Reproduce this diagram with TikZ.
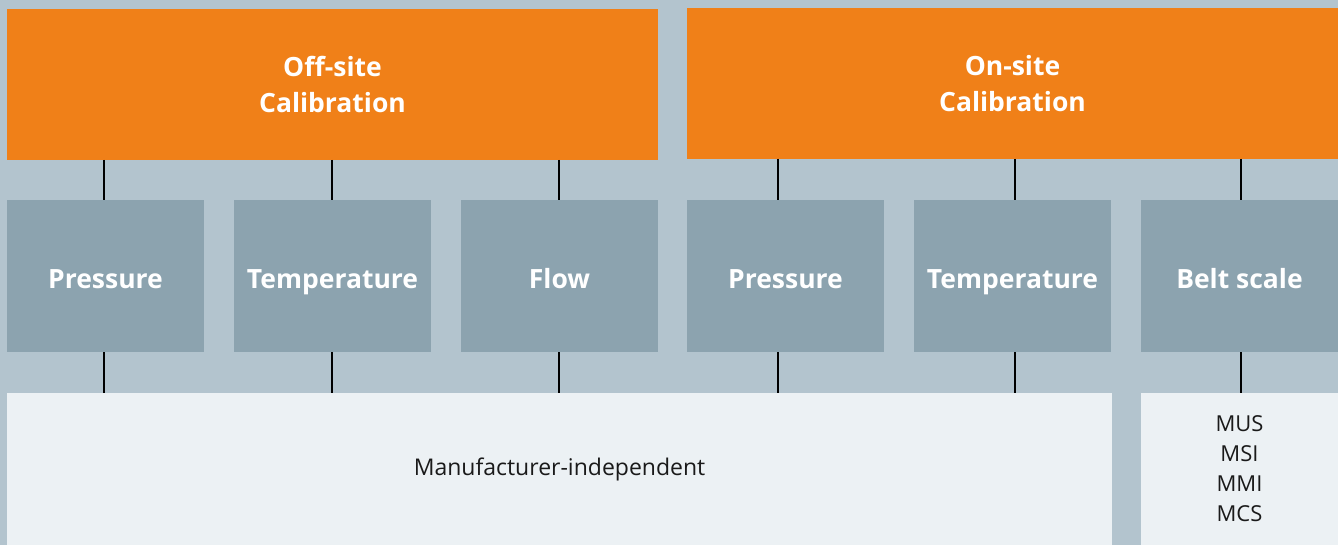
\documentclass[tikz,border=0pt]{standalone}
\usepackage{fontspec}
\setmainfont{Open Sans}
\definecolor{bgc}{HTML}{B3C4CE}
\definecolor{orng}{HTML}{F08018}
\definecolor{grayb}{HTML}{8CA3AF}
\definecolor{lightb}{HTML}{ECF1F4}
\definecolor{txt}{HTML}{1A1A1A}
\begin{document}
\begin{tikzpicture}[x=1pt,y=-1pt,
  box/.style={anchor=north west,inner sep=0pt,outer sep=0pt,align=center},
  head/.style={box,fill=orng,text=white,font=\fontsize{26.5}{36}\selectfont\bfseries,minimum height=151pt},
  cat/.style={box,fill=grayb,text=white,font=\fontsize{26.5}{30}\selectfont\bfseries,minimum width=197pt,minimum height=152pt,text height=24pt,text depth=0pt},
  base/.style={box,fill=lightb,text=txt,minimum height=152pt},
  link/.style={line width=2.5pt,black}]
\fill[bgc] (0,0) rectangle (1338,545);
\useasboundingbox (0,0) rectangle (1338,545);
\node[head,minimum width=651pt] (off) at (7,9) {Off-site\\Calibration};
\node[head,minimum width=651pt] (on) at (687,8) {On-site\\Calibration};
\node[cat] (c1) at (7,200) {Pressure};
\node[cat] (c2) at (234,200) {Temperature};
\node[cat] (c3) at (461,200) {Flow};
\node[cat] (c4) at (687,200) {Pressure};
\node[cat] (c5) at (914,200) {Temperature};
\node[cat] (c6) at (1141,200) {Belt scale};
\node[base,minimum width=1105pt,font=\fontsize{23}{30}\selectfont] (mi) at (7,393) {Manufacturer-independent};
\node[base,minimum width=197pt,font=\fontsize{22}{30}\selectfont] (ms) at (1141,393) {MUS\\MSI\\MMI\\MCS};
% top links
\draw[link] (off.south -| 104,0) -- (c1.north -| 104,0);
\draw[link] (off.south -| 332,0) -- (c2.north -| 332,0);
\draw[link] (off.south -| 559,0) -- (c3.north -| 559,0);
\draw[link] (on.south -| 778,0) -- (c4.north -| 778,0);
\draw[link] (on.south -| 1015,0) -- (c5.north -| 1015,0);
\draw[link] (on.south -| 1241,0) -- (c6.north -| 1241,0);
% bottom links
\draw[link] (c1.south -| 104,0) -- (mi.north -| 104,0);
\draw[link] (c2.south -| 332,0) -- (mi.north -| 332,0);
\draw[link] (c3.south -| 559,0) -- (mi.north -| 559,0);
\draw[link] (c4.south -| 778,0) -- (mi.north -| 778,0);
\draw[link] (c5.south -| 1015,0) -- (mi.north -| 1015,0);
\draw[link] (c6.south -| 1241,0) -- (ms.north -| 1241,0);
\end{tikzpicture}
\end{document}
